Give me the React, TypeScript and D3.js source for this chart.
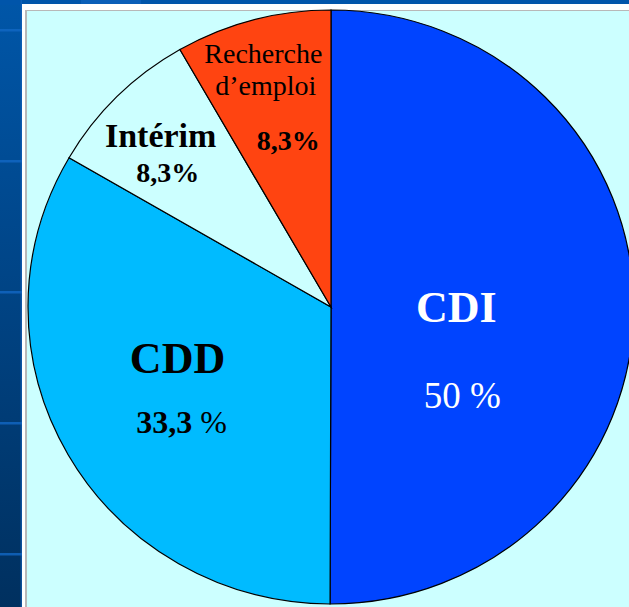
import React from "react";
import * as d3 from "d3";

const categories = ["CDI", "CDD", "Intérim", "Recherche d’emploi"];
const values = [50, 33.3, 8.3, 8.3];
const colors = ["#0044ff", "#00bbff", "#ccffff", "#ff4411"];

type Line = { parts: { t: string; bold: boolean }[]; dx: number; dy: number; size: number };
const labelRadius = [0.41, 0.58, 0.75, 0.75];
const labelColor = ["#ffffff", "#000000", "#000000", "#000000"];
const labelLines: Line[][] = [
  [
    { parts: [{ t: "CDI", bold: true }], dx: 1, dy: 15, size: 44 },
    { parts: [{ t: "50 %", bold: false }], dx: 7, dy: 101, size: 37 },
  ],
  [
    { parts: [{ t: "CDD", bold: true }], dx: -1, dy: -20, size: 44 },
    { parts: [{ t: "33,3", bold: true }, { t: " %", bold: false }], dx: 3, dy: 40, size: 32 },
  ],
  [
    { parts: [{ t: "Intérim", bold: true }], dx: -10, dy: -2.5, size: 34 },
    { parts: [{ t: "8,3%", bold: true }], dx: -3, dy: 32.5, size: 28 },
  ],
  [
    { parts: [{ t: "Recherche", bold: false }], dx: -9, dy: -29, size: 28 },
    { parts: [{ t: "d’emploi", bold: false }], dx: -6.5, dy: 3, size: 28 },
    { parts: [{ t: "8,3%", bold: true }], dx: 16, dy: 58, size: 28 },
  ],
];
const stripMarks = [30, 161, 292, 423, 554];

const W = 629;
const H = 607;
const cx = 331;
const cy = 307;
const ry = 297;
const rx = 303;
const FONT = "Liberation Serif";

export default function App() {
  const pie = d3.pie<number>().sort(null).value((d) => d)(values);
  const arc = d3.arc<d3.PieArcDatum<number>>().innerRadius(0).outerRadius(ry);
  const sx = rx / ry;
  return (
    <svg
      width={W}
      height={H}
      style={{ position: "absolute", left: 0, top: 0, display: "block" }}
    >
      <defs>
        <linearGradient id="strip" x1="0" y1="0" x2="0" y2="1">
          <stop offset="0" stopColor="#0056a8" />
          <stop offset="1" stopColor="#00305f" />
        </linearGradient>
      </defs>
      <rect x={0} y={0} width={W} height={H} fill="url(#strip)" />
      <rect x={0} y={0} width={W} height={5} fill="#0055aa" />
      <rect x={81} y={0} width={60} height={4} fill="#0a5fb8" />
      {stripMarks.map((y, i) => (
        <rect key={i} x={0} y={y - 1} width={22} height={2.5} fill="#1268c4" opacity={0.8} />
      ))}
      <rect x={20.5} y={0} width={1.5} height={H} fill="#1565c0" opacity={0.6} />
      <rect x={22} y={4} width={W} height={H} fill="#ffffff" />
      <rect x={25} y={10} width={W} height={H} fill="#b8b8b8" />
      <rect x={27} y={11} width={W} height={H} fill="#ccffff" />
      <g transform={`translate(${cx},${cy}) scale(${sx},1)`}>
        {pie.map((p, i) => (
          <path
            key={categories[i]}
            d={arc(p) || ""}
            fill={colors[i]}
            stroke="#000"
            strokeWidth={1.2}
            vectorEffect="non-scaling-stroke"
          />
        ))}
      </g>
      {pie.map((p, i) => {
        const a = (p.startAngle + p.endAngle) / 2;
        const k = labelRadius[i];
        const x = cx + Math.sin(a) * rx * k;
        const y = cy - Math.cos(a) * ry * k;
        return (
          <g key={"l" + i} fill={labelColor[i]}>
            {labelLines[i].map((ln, j) => (
              <text
                key={j}
                x={x + ln.dx}
                y={y + ln.dy}
                textAnchor="middle"
                style={{ fontFamily: FONT, fontSize: ln.size + "px" }}
              >
                {ln.parts.map((pt, m) => (
                  <tspan
                    key={m}
                    style={{ fontFamily: FONT, fontWeight: pt.bold ? 700 : 400 }}
                  >
                    {pt.t}
                  </tspan>
                ))}
              </text>
            ))}
          </g>
        );
      })}
    </svg>
  );
}
